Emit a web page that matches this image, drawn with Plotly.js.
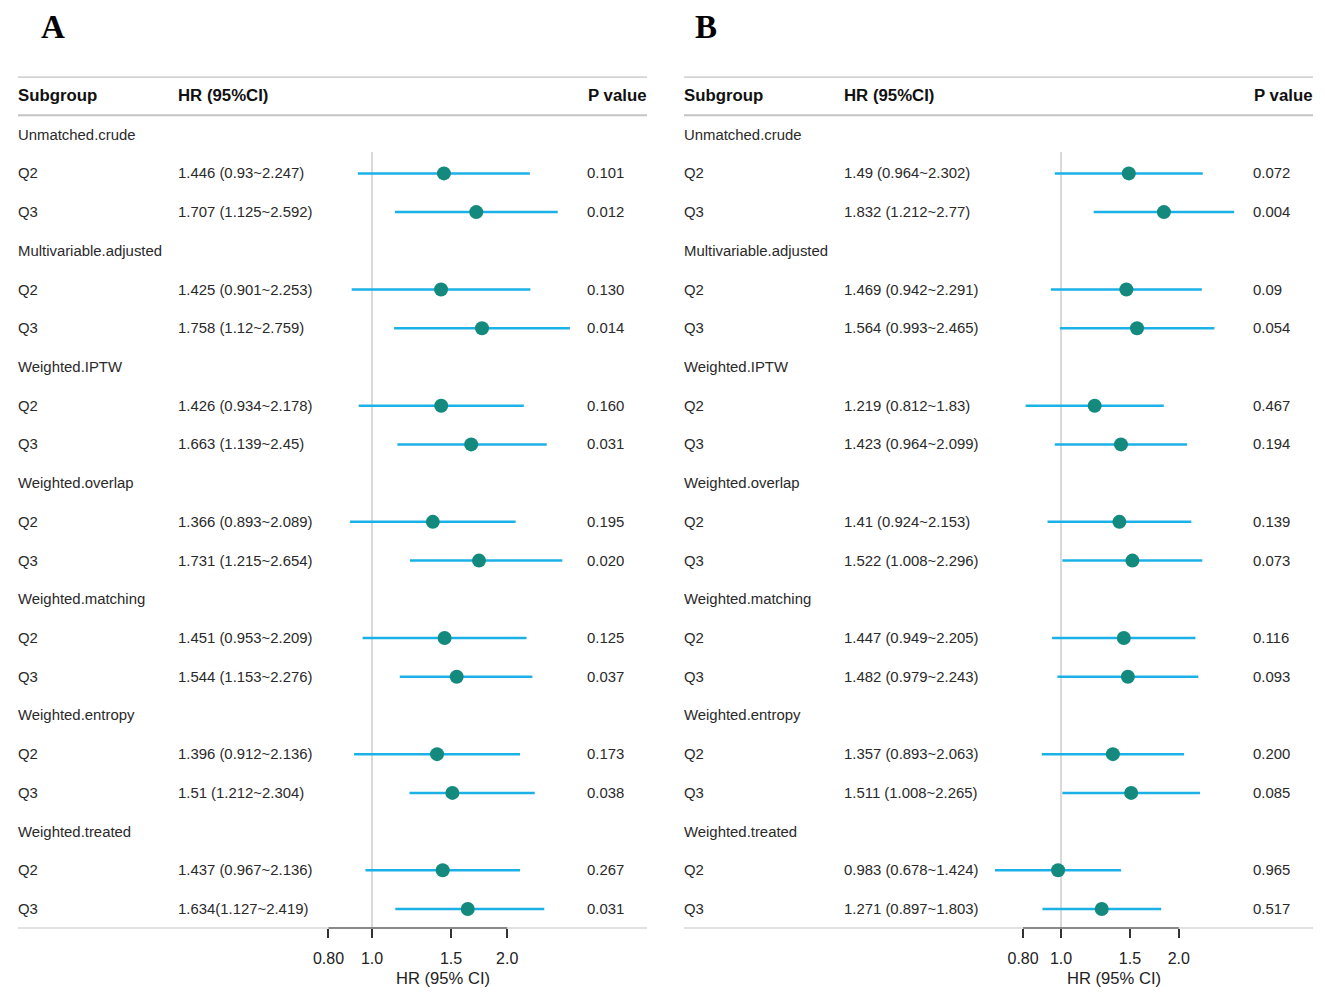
<!DOCTYPE html>
<html>
<head>
<meta charset="utf-8">
<script src="https://cdn.plot.ly/plotly-3.0.1.min.js"></script>
<style>html,body{margin:0;padding:0;background:#fff;}#chart{width:1325px;height:999px;}</style>
</head>
<body>
<div id="chart"></div>
<script>
// ---------- data ----------
const groups = ["Unmatched.crude","Multivariable.adjusted","Weighted.IPTW","Weighted.overlap","Weighted.matching","Weighted.entropy","Weighted.treated"];
const levels = ["Q2","Q3"];

// Panel A
const hrA  = [1.446,1.707, 1.425,1.758, 1.426,1.663, 1.366,1.731, 1.451,1.544, 1.396,1.51, 1.437,1.634];
const lowA = [0.93,1.125, 0.901,1.12, 0.934,1.139, 0.893,1.215, 0.953,1.153, 0.912,1.212, 0.967,1.127];
const upA  = [2.247,2.592, 2.253,2.759, 2.178,2.45, 2.089,2.654, 2.209,2.276, 2.136,2.304, 2.136,2.419];
const hrTextA = ["1.446 (0.93~2.247)","1.707 (1.125~2.592)","1.425 (0.901~2.253)","1.758 (1.12~2.759)",
  "1.426 (0.934~2.178)","1.663 (1.139~2.45)","1.366 (0.893~2.089)","1.731 (1.215~2.654)",
  "1.451 (0.953~2.209)","1.544 (1.153~2.276)","1.396 (0.912~2.136)","1.51 (1.212~2.304)",
  "1.437 (0.967~2.136)","1.634(1.127~2.419)"];
const pA = ["0.101","0.012","0.130","0.014","0.160","0.031","0.195","0.020","0.125","0.037","0.173","0.038","0.267","0.031"];

// Panel B
const hrB  = [1.49,1.832, 1.469,1.564, 1.219,1.423, 1.41,1.522, 1.447,1.482, 1.357,1.511, 0.983,1.271];
const lowB = [0.964,1.212, 0.942,0.993, 0.812,0.964, 0.924,1.008, 0.949,0.979, 0.893,1.008, 0.678,0.897];
const upB  = [2.302,2.77, 2.291,2.465, 1.83,2.099, 2.153,2.296, 2.205,2.243, 2.063,2.265, 1.424,1.803];
const hrTextB = ["1.49 (0.964~2.302)","1.832 (1.212~2.77)","1.469 (0.942~2.291)","1.564 (0.993~2.465)",
  "1.219 (0.812~1.83)","1.423 (0.964~2.099)","1.41 (0.924~2.153)","1.522 (1.008~2.296)",
  "1.447 (0.949~2.205)","1.482 (0.979~2.243)","1.357 (0.893~2.063)","1.511 (1.008~2.265)",
  "0.983 (0.678~1.424)","1.271 (0.897~1.803)"];
const pB = ["0.072","0.004","0.09","0.054","0.467","0.194","0.139","0.073","0.116","0.093","0.200","0.085","0.965","0.517"];

const tickVals = [0.8,1,1.5,2];
const tickText = ["0.80","1.0","1.5","2.0"];
const headers = ["Subgroup","HR (95%CI)","P value"];
const axisTitle = "HR (95% CI)";
const panelLabels = ["A","B"];

// ---------- layout helpers ----------
const W = 1325, H = 999;
const px = v => v / W;
const py = v => 1 - v / H;
const FONT = "Liberation Sans, Arial, sans-serif";
const CI_COLOR = "#1cb1e6", PT_COLOR = "#148a7e", RULE = "#c4c4c4";

// row index: 0 header, group g -> 1+3g, Q2 -> 2+3g, Q3 -> 3+3g
const dataRows = [];
groups.forEach((g, i) => { dataRows.push(2 + 3 * i, 3 + 3 * i); });
const nRows = 1 + groups.length * 3;

const panels = [
  {hr: hrA, low: lowA, up: upA, hrText: hrTextA, p: pA, left: 18, right: 647, hrCol: 178, pCol: 587, one: 372, perDec: 449.0, title: 443, label: 53, xa: "x", ya: "y", xk: "xaxis", yk: "yaxis"},
  {hr: hrB, low: lowB, up: upB, hrText: hrTextB, p: pB, left: 684, right: 1313, hrCol: 844, pCol: 1253, one: 1061, perDec: 391.4, title: 1114, label: 706, xa: "x2", ya: "y2", xk: "xaxis2", yk: "yaxis2"}
];

const traces = [];
const annotations = [];
const shapes = [];
const layout = {
  width: W, height: H,
  margin: {l: 0, r: 0, t: 0, b: 0},
  paper_bgcolor: "#fff", plot_bgcolor: "rgba(0,0,0,0)",
  showlegend: false,
  font: {family: FONT, color: "#222"},
  annotations: annotations, shapes: shapes
};

const yDomain = [py(928.4), py(76.6)];

function txt(xref, x, yref, y, text, anchor, font) {
  const dx = anchor === "right" ? -1 : 0;
  return {xref: xref, yref: yref, x: x, y: y, text: text, showarrow: false, xanchor: anchor, yanchor: "middle",
    borderpad: 0, borderwidth: 0, xshift: dx, font: font};
}

panels.forEach((P, k) => {
  const rng = [(P.left - P.one) / P.perDec, (P.right - P.one) / P.perDec];
  layout[P.xk] = {
    type: "log", domain: [px(P.left), px(P.right)], range: rng,
    showgrid: false, zeroline: false, showline: false,
    tickvals: tickVals, ticktext: tickText,
    ticks: "outside", ticklen: 9, tickwidth: 2, tickcolor: "#333",
    ticklabelstandoff: 6,
    tickfont: {family: FONT, size: 16, color: "#222"},
    anchor: P.ya, fixedrange: true
  };
  layout[P.yk] = {
    domain: yDomain, range: [nRows - 0.5, -0.5],
    showgrid: false, zeroline: false, showline: false, showticklabels: false, ticks: "",
    anchor: P.xa, fixedrange: true
  };

  // rules
  [-0.5, 0.5, nRows - 0.5].forEach(r => {
    shapes.push({type: "line", xref: "paper", yref: P.ya, x0: px(P.left), x1: px(P.right), y0: r, y1: r,
      line: {color: RULE, width: r < 0 ? 2.5 : 2}, layer: "below"});
  });
  // axis line segment
  shapes.push({type: "line", xref: P.xa, yref: P.ya, x0: tickVals[0], x1: tickVals[tickVals.length - 1],
    y0: nRows - 0.5, y1: nRows - 0.5, line: {color: "#333", width: 2}});
  // reference line at HR = 1
  shapes.push({type: "line", xref: P.xa, yref: P.ya, x0: 1, x1: 1, y0: 1.45, y1: nRows - 0.5,
    line: {color: "#cccccc", width: 1.5}, layer: "below"});

  // CI lines
  const lx = [], ly = [];
  P.hr.forEach((v, i) => { lx.push(P.low[i], P.up[i], null); ly.push(dataRows[i], dataRows[i], null); });
  traces.push({type: "scatter", mode: "lines", x: lx, y: ly, xaxis: P.xa, yaxis: P.ya,
    line: {color: CI_COLOR, width: 2.5}, hoverinfo: "skip"});
  traces.push({type: "scatter", mode: "markers", x: P.hr, y: dataRows, xaxis: P.xa, yaxis: P.ya,
    marker: {color: PT_COLOR, size: 14, line: {width: 0}}, cliponaxis: false});

  // headers
  const hdrFont = {family: FONT, size: 16.8, color: "#111"};
  annotations.push(txt("paper", px(P.left), P.ya, 0, "<b>" + headers[0] + "</b>", "left", hdrFont));
  annotations.push(txt("paper", px(P.hrCol), P.ya, 0, "<b>" + headers[1] + "</b>", "left", hdrFont));
  annotations.push(txt("paper", px(P.right), P.ya, 0, "<b>" + headers[2] + "</b>", "right", hdrFont));

  const cellFont = {family: FONT, size: 14.9, color: "#2a2a2a"};
  groups.forEach((g, gi) => {
    annotations.push(txt("paper", px(P.left), P.ya, 1 + 3 * gi, g, "left", cellFont));
  });
  P.hr.forEach((v, i) => {
    const r = dataRows[i];
    annotations.push(txt("paper", px(P.left), P.ya, r, levels[i % 2], "left", cellFont));
    annotations.push(txt("paper", px(P.hrCol), P.ya, r, P.hrText[i], "left", cellFont));
    annotations.push(txt("paper", px(P.pCol), P.ya, r, P.p[i], "left", cellFont));
  });

  // axis title
  annotations.push(txt("paper", px(P.title), "paper", py(978), axisTitle, "center", {family: FONT, size: 16.6, color: "#222"}));
  // panel label
  annotations.push(txt("paper", px(P.label), "paper", py(27), "<b>" + panelLabels[k] + "</b>", "center", {family: "Liberation Serif, Times New Roman, serif", size: 33, color: "#000"}));
});

Plotly.newPlot("chart", traces, layout, {displayModeBar: false, staticPlot: true});
</script>
</body>
</html>
